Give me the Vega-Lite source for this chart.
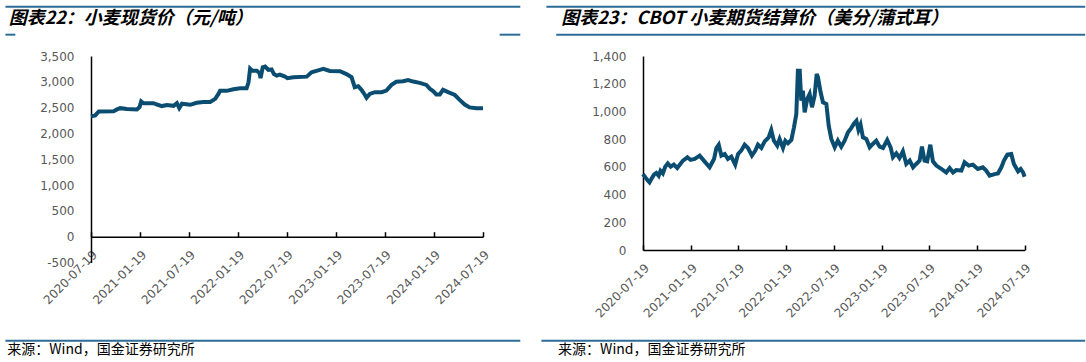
{
  "$schema": "https://vega.github.io/schema/vega-lite/v6.json",
  "padding": {"left": 4, "top": 5, "right": 0, "bottom": 0},
  "background": "white",
  "spacing": 18,
  "config": {
    "view": {"stroke": null},
    "axis": {"grid": false, "title": null, "domainColor": "#000000", "domainWidth": 1.5, "tickColor": "#000000", "tickWidth": 1.5, "labelFont": "DejaVu Sans", "labelFontSize": 12, "labelColor": "#595959", "labelOverlap": false, "labelFlush": false, "labelBound": false}
  },
  "datasets": {
    "spot": [
      {"date": "2020-07-19", "price": 2330}, {"date": "2020-08-04", "price": 2350}, {"date": "2020-08-17", "price": 2425},
      {"date": "2020-10-11", "price": 2430}, {"date": "2020-10-24", "price": 2465}, {"date": "2020-11-05", "price": 2490},
      {"date": "2020-11-30", "price": 2475}, {"date": "2021-01-06", "price": 2465}, {"date": "2021-01-16", "price": 2510},
      {"date": "2021-01-22", "price": 2620}, {"date": "2021-01-31", "price": 2585}, {"date": "2021-03-09", "price": 2585},
      {"date": "2021-03-22", "price": 2560}, {"date": "2021-04-09", "price": 2530}, {"date": "2021-04-28", "price": 2550},
      {"date": "2021-05-23", "price": 2535}, {"date": "2021-06-04", "price": 2585}, {"date": "2021-06-13", "price": 2490},
      {"date": "2021-06-23", "price": 2575}, {"date": "2021-07-24", "price": 2555}, {"date": "2021-08-17", "price": 2595},
      {"date": "2021-09-11", "price": 2610}, {"date": "2021-10-06", "price": 2610}, {"date": "2021-10-25", "price": 2670},
      {"date": "2021-11-06", "price": 2765}, {"date": "2021-11-12", "price": 2825}, {"date": "2021-12-07", "price": 2825},
      {"date": "2022-01-01", "price": 2855}, {"date": "2022-01-26", "price": 2875}, {"date": "2022-02-19", "price": 2875},
      {"date": "2022-02-26", "price": 2990}, {"date": "2022-03-04", "price": 3255}, {"date": "2022-03-12", "price": 3215},
      {"date": "2022-03-29", "price": 3215}, {"date": "2022-04-08", "price": 3170}, {"date": "2022-04-12", "price": 3070},
      {"date": "2022-04-20", "price": 3280}, {"date": "2022-04-29", "price": 3295}, {"date": "2022-05-11", "price": 3230},
      {"date": "2022-05-23", "price": 3240}, {"date": "2022-06-01", "price": 3150}, {"date": "2022-06-11", "price": 3120},
      {"date": "2022-06-23", "price": 3140}, {"date": "2022-07-12", "price": 3100}, {"date": "2022-07-21", "price": 3070},
      {"date": "2022-08-12", "price": 3090}, {"date": "2022-10-01", "price": 3100}, {"date": "2022-10-19", "price": 3185},
      {"date": "2022-11-19", "price": 3230}, {"date": "2022-12-02", "price": 3250}, {"date": "2022-12-26", "price": 3210},
      {"date": "2023-02-02", "price": 3205}, {"date": "2023-02-26", "price": 3150}, {"date": "2023-03-17", "price": 3090},
      {"date": "2023-03-29", "price": 2895}, {"date": "2023-04-11", "price": 2915}, {"date": "2023-04-23", "price": 2845},
      {"date": "2023-05-06", "price": 2745}, {"date": "2023-05-12", "price": 2690}, {"date": "2023-05-24", "price": 2765},
      {"date": "2023-06-12", "price": 2800}, {"date": "2023-07-07", "price": 2800}, {"date": "2023-07-25", "price": 2830},
      {"date": "2023-08-13", "price": 2940}, {"date": "2023-08-31", "price": 3000}, {"date": "2023-09-25", "price": 3010},
      {"date": "2023-10-14", "price": 3035}, {"date": "2023-11-02", "price": 3005}, {"date": "2023-11-26", "price": 2980},
      {"date": "2023-12-21", "price": 2940}, {"date": "2024-01-03", "price": 2865}, {"date": "2024-01-15", "price": 2820},
      {"date": "2024-01-27", "price": 2755}, {"date": "2024-02-09", "price": 2755}, {"date": "2024-02-21", "price": 2845},
      {"date": "2024-03-11", "price": 2800}, {"date": "2024-04-05", "price": 2745}, {"date": "2024-04-23", "price": 2650},
      {"date": "2024-05-12", "price": 2560}, {"date": "2024-05-30", "price": 2505}, {"date": "2024-06-24", "price": 2490},
      {"date": "2024-07-19", "price": 2490}
    ],
    "cbot": [
      {"date": "2020-07-19", "price": 548}, {"date": "2020-07-28", "price": 524}, {"date": "2020-08-07", "price": 500},
      {"date": "2020-08-13", "price": 488}, {"date": "2020-08-20", "price": 512}, {"date": "2020-08-30", "price": 544},
      {"date": "2020-09-08", "price": 556}, {"date": "2020-09-17", "price": 536}, {"date": "2020-09-24", "price": 572},
      {"date": "2020-10-03", "price": 553}, {"date": "2020-10-12", "price": 601}, {"date": "2020-10-22", "price": 625},
      {"date": "2020-11-02", "price": 601}, {"date": "2020-11-14", "price": 616}, {"date": "2020-11-27", "price": 592},
      {"date": "2020-12-06", "price": 613}, {"date": "2020-12-19", "price": 645}, {"date": "2021-01-05", "price": 669},
      {"date": "2021-01-17", "price": 650}, {"date": "2021-02-02", "price": 657}, {"date": "2021-02-21", "price": 681},
      {"date": "2021-03-09", "price": 645}, {"date": "2021-03-31", "price": 597}, {"date": "2021-04-17", "price": 657},
      {"date": "2021-04-26", "price": 736}, {"date": "2021-05-05", "price": 760}, {"date": "2021-05-15", "price": 681},
      {"date": "2021-05-28", "price": 693}, {"date": "2021-06-09", "price": 657}, {"date": "2021-06-22", "price": 674},
      {"date": "2021-07-07", "price": 616}, {"date": "2021-07-18", "price": 693}, {"date": "2021-07-30", "price": 717},
      {"date": "2021-08-12", "price": 760}, {"date": "2021-08-25", "price": 736}, {"date": "2021-09-09", "price": 681},
      {"date": "2021-09-22", "price": 717}, {"date": "2021-10-02", "price": 760}, {"date": "2021-10-15", "price": 736},
      {"date": "2021-10-28", "price": 784}, {"date": "2021-11-12", "price": 813}, {"date": "2021-11-22", "price": 866},
      {"date": "2021-12-02", "price": 789}, {"date": "2021-12-15", "price": 753}, {"date": "2021-12-24", "price": 801},
      {"date": "2022-01-06", "price": 736}, {"date": "2022-01-15", "price": 789}, {"date": "2022-01-25", "price": 770},
      {"date": "2022-02-07", "price": 794}, {"date": "2022-02-17", "price": 885}, {"date": "2022-02-26", "price": 981},
      {"date": "2022-03-04", "price": 1294}, {"date": "2022-03-11", "price": 1294}, {"date": "2022-03-17", "price": 1078},
      {"date": "2022-03-23", "price": 1150}, {"date": "2022-03-30", "price": 993}, {"date": "2022-04-09", "price": 1090},
      {"date": "2022-04-18", "price": 1126}, {"date": "2022-04-27", "price": 1030}, {"date": "2022-05-07", "price": 1114},
      {"date": "2022-05-15", "price": 1270}, {"date": "2022-05-20", "price": 1246}, {"date": "2022-05-30", "price": 1138},
      {"date": "2022-06-08", "price": 1066}, {"date": "2022-06-21", "price": 1054}, {"date": "2022-06-30", "price": 897},
      {"date": "2022-07-10", "price": 801}, {"date": "2022-07-23", "price": 741}, {"date": "2022-08-04", "price": 789},
      {"date": "2022-08-17", "price": 746}, {"date": "2022-08-30", "price": 789}, {"date": "2022-09-12", "price": 849},
      {"date": "2022-09-24", "price": 880}, {"date": "2022-10-05", "price": 914}, {"date": "2022-10-14", "price": 933},
      {"date": "2022-10-22", "price": 866}, {"date": "2022-10-30", "price": 904}, {"date": "2022-11-08", "price": 813},
      {"date": "2022-11-21", "price": 801}, {"date": "2022-12-04", "price": 741}, {"date": "2022-12-16", "price": 765},
      {"date": "2022-12-29", "price": 789}, {"date": "2023-01-11", "price": 746}, {"date": "2023-01-24", "price": 736},
      {"date": "2023-02-09", "price": 794}, {"date": "2023-02-22", "price": 741}, {"date": "2023-03-03", "price": 669},
      {"date": "2023-03-16", "price": 698}, {"date": "2023-03-28", "price": 664}, {"date": "2023-04-10", "price": 712},
      {"date": "2023-04-23", "price": 621}, {"date": "2023-05-06", "price": 645}, {"date": "2023-05-19", "price": 597},
      {"date": "2023-05-31", "price": 621}, {"date": "2023-06-13", "price": 645}, {"date": "2023-06-22", "price": 746},
      {"date": "2023-07-02", "price": 645}, {"date": "2023-07-12", "price": 640}, {"date": "2023-07-24", "price": 760},
      {"date": "2023-08-03", "price": 640}, {"date": "2023-08-16", "price": 609}, {"date": "2023-09-04", "price": 585},
      {"date": "2023-09-23", "price": 560}, {"date": "2023-10-06", "price": 592}, {"date": "2023-10-19", "price": 560},
      {"date": "2023-10-31", "price": 577}, {"date": "2023-11-20", "price": 573}, {"date": "2023-12-02", "price": 633},
      {"date": "2023-12-18", "price": 609}, {"date": "2024-01-03", "price": 616}, {"date": "2024-01-22", "price": 585},
      {"date": "2024-02-10", "price": 597}, {"date": "2024-02-23", "price": 573}, {"date": "2024-03-07", "price": 536},
      {"date": "2024-03-26", "price": 548}, {"date": "2024-04-08", "price": 553}, {"date": "2024-04-21", "price": 597},
      {"date": "2024-05-01", "price": 645}, {"date": "2024-05-14", "price": 688}, {"date": "2024-05-29", "price": 693},
      {"date": "2024-06-08", "price": 621}, {"date": "2024-06-24", "price": 568}, {"date": "2024-07-04", "price": 585},
      {"date": "2024-07-13", "price": 560}, {"date": "2024-07-19", "price": 529}
    ]
  },
  "hconcat": [
    {
      "width": 392,
      "height": 206.5,
      "layer": [
        {
          "data": {"name": "spot"},
          "mark": {"type": "line", "color": "#0B4D70", "strokeWidth": 4},
          "encoding": {
            "x": {"field": "date", "type": "temporal",
              "scale": {"type": "utc", "nice": false, "domain": [{"year": 2020, "month": 7, "date": 19, "utc": true}, {"year": 2024, "month": 7, "date": 19, "utc": true}]},
              "axis": {"offset": -25.8, "format": "%Y-%m-%d", "labelAngle": -45, "tickSize": -5, "labelPadding": 17, "labelOverlap": false, "labelFlush": false, "tickCount": 20,
                "values": [{"year": 2020, "month": 7, "date": 19, "utc": true}, {"year": 2021, "month": 1, "date": 19, "utc": true}, {"year": 2021, "month": 7, "date": 19, "utc": true}, {"year": 2022, "month": 1, "date": 19, "utc": true}, {"year": 2022, "month": 7, "date": 19, "utc": true}, {"year": 2023, "month": 1, "date": 19, "utc": true}, {"year": 2023, "month": 7, "date": 19, "utc": true}, {"year": 2024, "month": 1, "date": 19, "utc": true}, {"year": 2024, "month": 7, "date": 19, "utc": true}]}},
            "y": {"field": "price", "type": "quantitative",
              "scale": {"domain": [-500, 3500], "nice": false, "zero": false},
              "axis": {"values": [-500, 0, 500, 1000, 1500, 2000, 2500, 3000, 3500], "tickCount": 20, "format": ",d", "ticks": false, "tickSize": 0, "labelPadding": 17, "labelOverlap": false, "labelFlush": false, "labelExpr": "replace(datum.label, '\u2212', '-')"}}
          }
        },
        {
          "data": {"values": [{}]},
          "mark": {"type": "rule", "color": "#2E6B98", "strokeWidth": 2},
          "encoding": {"x": {"datum": {"year": 2019, "month": 9, "date": 4, "utc": true}}, "x2": {"datum": {"year": 2024, "month": 12, "date": 5, "utc": true}}, "y": {"datum": 4455}}
        },
        {
          "data": {"values": [{}]},
          "mark": {"type": "rule", "color": "#2E6B98", "strokeWidth": 2},
          "encoding": {"x": {"datum": {"year": 2019, "month": 9, "date": 4, "utc": true}}, "x2": {"datum": {"year": 2019, "month": 10, "date": 11, "utc": true}}, "y": {"datum": 3913}}
        },
        {
          "data": {"values": [{}]},
          "mark": {"type": "rule", "color": "#2E6B98", "strokeWidth": 2},
          "encoding": {"x": {"datum": {"year": 2024, "month": 9, "date": 19, "utc": true}}, "x2": {"datum": {"year": 2024, "month": 12, "date": 5, "utc": true}}, "y": {"datum": 3913}}
        },
        {
          "data": {"values": [{}]},
          "mark": {"type": "rule", "color": "#2E6B98", "strokeWidth": 2},
          "encoding": {"x": {"datum": {"year": 2019, "month": 9, "date": 4, "utc": true}}, "x2": {"datum": {"year": 2024, "month": 12, "date": 5, "utc": true}}, "y": {"datum": -2015}}
        },
        {
          "data": {"values": [{}]},
          "mark": {"type": "text", "align": "left", "baseline": "middle", "font": "Noto Sans CJK SC", "fontSize": 18, "fontWeight": "bold", "fontStyle": "italic", "color": "#000000", "text": "图表22：小麦现货价（元/吨）"},
          "encoding": {"x": {"datum": {"year": 2019, "month": 9, "date": 16, "utc": true}}, "y": {"datum": 4213}}
        },
        {
          "data": {"values": [{}]},
          "mark": {"type": "text", "align": "left", "baseline": "middle", "font": "Noto Sans CJK SC", "fontSize": 14, "color": "#000000", "text": "来源：Wind，国金证券研究所"},
          "encoding": {"x": {"datum": {"year": 2019, "month": 9, "date": 11, "utc": true}}, "y": {"datum": -2189}}
        }
      ]
    },
    {
      "width": 381.6,
      "height": 194,
      "layer": [
        {
          "data": {"name": "cbot"},
          "mark": {"type": "line", "color": "#0B4D70", "strokeWidth": 4},
          "encoding": {
            "x": {"field": "date", "type": "temporal",
              "scale": {"type": "utc", "nice": false, "domain": [{"year": 2020, "month": 7, "date": 19, "utc": true}, {"year": 2024, "month": 7, "date": 19, "utc": true}]},
              "axis": {"format": "%Y-%m-%d", "labelAngle": -45, "tickSize": -5, "labelPadding": 17, "labelOverlap": false, "labelFlush": false, "tickCount": 20,
                "values": [{"year": 2020, "month": 7, "date": 19, "utc": true}, {"year": 2021, "month": 1, "date": 19, "utc": true}, {"year": 2021, "month": 7, "date": 19, "utc": true}, {"year": 2022, "month": 1, "date": 19, "utc": true}, {"year": 2022, "month": 7, "date": 19, "utc": true}, {"year": 2023, "month": 1, "date": 19, "utc": true}, {"year": 2023, "month": 7, "date": 19, "utc": true}, {"year": 2024, "month": 1, "date": 19, "utc": true}, {"year": 2024, "month": 7, "date": 19, "utc": true}]}},
            "y": {"field": "price", "type": "quantitative",
              "scale": {"domain": [0, 1400], "nice": false},
              "axis": {"values": [0, 200, 400, 600, 800, 1000, 1200, 1400], "tickCount": 20, "format": ",d", "ticks": false, "tickSize": 0, "labelPadding": 17, "labelOverlap": false, "labelFlush": false}}
          }
        },
        {
          "data": {"values": [{}]},
          "mark": {"type": "rule", "color": "#2E6B98", "strokeWidth": 2},
          "encoding": {"x": {"datum": {"year": 2019, "month": 7, "date": 15, "utc": true}}, "x2": {"datum": {"year": 2025, "month": 3, "date": 8, "utc": true}}, "y": {"datum": 1756}}
        },
        {
          "data": {"values": [{}]},
          "mark": {"type": "rule", "color": "#2E6B98", "strokeWidth": 2},
          "encoding": {"x": {"datum": {"year": 2019, "month": 8, "date": 22, "utc": true}}, "x2": {"datum": {"year": 2025, "month": 3, "date": 8, "utc": true}}, "y": {"datum": 1554}}
        },
        {
          "data": {"values": [{}]},
          "mark": {"type": "rule", "color": "#2E6B98", "strokeWidth": 2},
          "encoding": {"x": {"datum": {"year": 2019, "month": 6, "date": 26, "utc": true}}, "x2": {"datum": {"year": 2025, "month": 3, "date": 8, "utc": true}}, "y": {"datum": -654.5}}
        },
        {
          "data": {"values": [{}]},
          "mark": {"type": "text", "align": "left", "baseline": "middle", "font": "Noto Sans CJK SC", "fontSize": 18, "fontWeight": "bold", "fontStyle": "italic", "color": "#000000", "text": "图表23：CBOT 小麦期货结算价（美分/蒲式耳）"},
          "encoding": {"x": {"datum": {"year": 2019, "month": 9, "date": 10, "utc": true}}, "y": {"datum": 1666}}
        },
        {
          "data": {"values": [{}]},
          "mark": {"type": "text", "align": "left", "baseline": "middle", "font": "Noto Sans CJK SC", "fontSize": 14, "color": "#000000", "text": "来源：Wind，国金证券研究所"},
          "encoding": {"x": {"datum": {"year": 2019, "month": 8, "date": 29, "utc": true}}, "y": {"datum": -719}}
        }
      ]
    }
  ]
}
